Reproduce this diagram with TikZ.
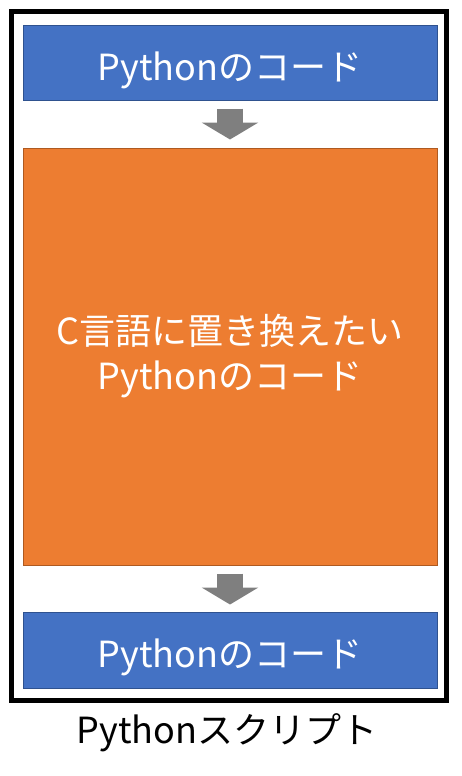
\documentclass[tikz,border=0pt]{standalone}
\usepackage{fontspec}
\setmainfont{Noto Sans CJK JP}
\usetikzlibrary{arrows.meta}
\definecolor{boxblue}{HTML}{4472C4}
\definecolor{boxblueline}{HTML}{2F528F}
\definecolor{boxorange}{HTML}{ED7D31}
\definecolor{boxorangeline}{HTML}{AE5A21}
\definecolor{arrowgray}{HTML}{7F7F7F}
\tikzset{
    plainbox/.style = {line width = 1pt, text = white, minimum width = 414pt,
        inner sep = 0pt, align = center, font = \fontsize{36}{45}\selectfont},
    codebox/.style = {plainbox, draw = boxblueline, fill = boxblue,
        text height = 36pt, text depth = 1pt},
    targetbox/.style = {plainbox, draw = boxorangeline, fill = boxorange},
    flowarrow/.style = {draw = arrowgray, line width = 26pt,
        -{Triangle[width = 56pt, length = 17pt, fill = arrowgray]}}
}
\begin{document}
\begin{tikzpicture}[x=1pt, y=-1pt]
    \useasboundingbox (0, 0) rectangle (462, 776);
    \draw[line width = 5pt] (11.5, 11.5) rectangle (446, 700);
    \node[codebox, minimum height = 74pt] (top) at (230, 63) {Pythonのコード};
    \node[targetbox, minimum height = 417pt] (middle) at (230, 356.5) {C言語に置き換えたい\\Pythonのコード};
    \node[codebox, minimum height = 76pt] (bottom) at (230, 650) {Pythonのコード};
    \node[font = \fontsize{36}{45}\selectfont] (script) at (227, 733) {Pythonスクリプト};
    \draw[flowarrow] ([yshift = -8pt] top.south) -- ([yshift = 8pt] middle.north);
    \draw[flowarrow] ([yshift = -8pt] middle.south) -- ([yshift = 7pt] bottom.north);
\end{tikzpicture}
\end{document}
